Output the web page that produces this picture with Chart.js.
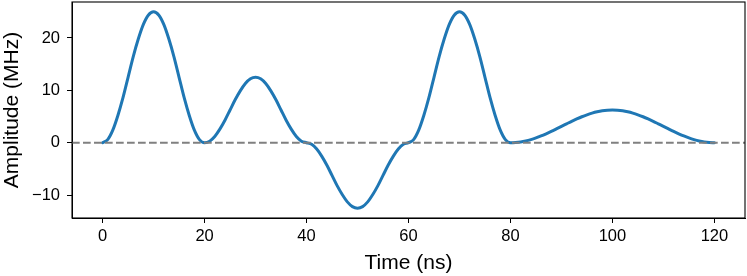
<!DOCTYPE html>
<html>
<head>
<meta charset="utf-8">
<script src="https://cdn.jsdelivr.net/npm/chart.js@4.4.1/dist/chart.umd.min.js"></script>
<style>
  html, body { margin: 0; padding: 0; background: #fff; }
  #wrap { width: 747px; height: 276px; }
</style>
</head>
<body>
<div id="wrap"><canvas id="pulse-chart" width="747" height="276"></canvas></div>
<script>
// time axis, 1 ns steps
var timeNs = [];
for (var i = 0; i <= 120; i++) timeNs.push(i);

// amplitude (MHz), one value per ns
var amplitude = [
  // 0 - 20
  0, 0.6, 2.4, 5.2, 8.6, 12.5, 16.4, 19.8, 22.6, 24.4, 25, 24.4, 22.6, 19.8, 16.4, 12.5, 8.6, 5.2, 2.4, 0.6, 0,
  // 21 - 40
  0.3, 1.2, 2.6, 4.3, 6.25, 8.2, 9.9, 11.3, 12.2, 12.5, 12.2, 11.3, 9.9, 8.2, 6.25, 4.3, 2.6, 1.2, 0.3, 0,
  // 41 - 60
  -0.3, -1.2, -2.6, -4.3, -6.25, -8.2, -9.9, -11.3, -12.2, -12.5, -12.2, -11.3, -9.9, -8.2, -6.25, -4.3, -2.6, -1.2, -0.3, 0,
  // 61 - 80
  0.6, 2.4, 5.2, 8.6, 12.5, 16.4, 19.8, 22.6, 24.4, 25, 24.4, 22.6, 19.8, 16.4, 12.5, 8.6, 5.2, 2.4, 0.6, 0,
  // 81 - 120
  0.04, 0.15, 0.34, 0.6, 0.92, 1.29, 1.71, 2.16, 2.64, 3.13, 3.61, 4.09, 4.54, 4.96, 5.33, 5.65, 5.91, 6.1, 6.21, 6.25,
  6.21, 6.1, 5.91, 5.65, 5.33, 4.96, 4.54, 4.09, 3.61, 3.13, 2.64, 2.16, 1.71, 1.29, 0.92, 0.6, 0.34, 0.15, 0.04, 0
];

var xTicks = [0, 20, 40, 60, 80, 100, 120];
var yTicks = [-10, 0, 10, 20];

var points = timeNs.map(function(t, i) { return { x: t, y: amplitude[i] }; });

var FONT = "'Liberation Sans', Arial, Helvetica, sans-serif";

// dashed zero line across the axes + box around plot
var framePlugin = {
  id: 'frame',
  afterDatasetsDraw: function(chart) {
    var ctx = chart.ctx, a = chart.chartArea;
    var y0 = chart.scales.y.getPixelForValue(0);
    ctx.save();
    ctx.strokeStyle = '#808080';
    ctx.lineWidth = 2;
    ctx.setLineDash([7.7, 3.3]);
    ctx.beginPath();
    ctx.moveTo(a.left, y0);
    ctx.lineTo(a.right, y0);
    ctx.stroke();
    ctx.restore();
  },
  afterDraw: function(chart) {
    var ctx = chart.ctx, a = chart.chartArea;
    ctx.save();
    ctx.strokeStyle = '#000';
    ctx.lineWidth = 1.1;
    ctx.strokeRect(a.left, a.top, a.right - a.left, a.bottom - a.top);
    ctx.restore();
  }
};

new Chart(document.getElementById('pulse-chart'), {
  type: 'line',
  data: {
    datasets: [{
      label: 'Amplitude',
      data: points,
      borderColor: '#1f77b4',
      borderWidth: 3,
      pointRadius: 0,
      fill: false,
      cubicInterpolationMode: 'monotone',
      borderCapStyle: 'round',
      borderJoinStyle: 'round'
    }]
  },
  options: {
    responsive: false,
    animation: false,
    devicePixelRatio: 1,
    layout: { padding: { left: 0, top: 2, right: 2, bottom: 0 } },
    plugins: {
      legend: { display: false },
      tooltip: { enabled: false }
    },
    scales: {
      x: {
        type: 'linear',
        min: -6,
        max: 126,
        afterBuildTicks: function(scale) {
          scale.ticks = xTicks.map(function(v) { return { value: v }; });
        },
        afterFit: function(scale) {
          scale.height = 58;
          scale.paddingLeft = 0;
          scale.paddingRight = 0;
        },
        grid: { drawOnChartArea: false, drawTicks: true, tickLength: 5, color: '#000', tickWidth: 1 },
        border: { display: true, color: '#000', width: 1 },
        ticks: { color: '#000', font: { family: FONT, size: 16.5 }, padding: 4, maxRotation: 0 },
        title: {
          display: true,
          text: 'Time (ns)',
          color: '#000',
          font: { family: FONT, size: 21 },
          padding: { top: 0, bottom: 0 }
        }
      },
      y: {
        type: 'linear',
        min: -14.375,
        max: 26.875,
        afterBuildTicks: function(scale) {
          scale.ticks = yTicks.map(function(v) { return { value: v }; });
        },
        afterFit: function(scale) {
          scale.width = 72;
          scale.paddingTop = 0;
          scale.paddingBottom = 0;
        },
        grid: { drawOnChartArea: false, drawTicks: true, tickLength: 5, color: '#000', tickWidth: 1 },
        border: { display: true, color: '#000', width: 1 },
        ticks: {
          color: '#000',
          font: { family: FONT, size: 16.5 },
          padding: 7,
          callback: function(v) { return v < 0 ? '\u2212' + Math.abs(v) : String(v); }
        },
        title: {
          display: true,
          text: 'Amplitude (MHz)',
          color: '#000',
          font: { family: FONT, size: 21 },
          padding: { top: 0, bottom: 0 }
        }
      }
    }
  },
  plugins: [framePlugin]
});
</script>
</body>
</html>
